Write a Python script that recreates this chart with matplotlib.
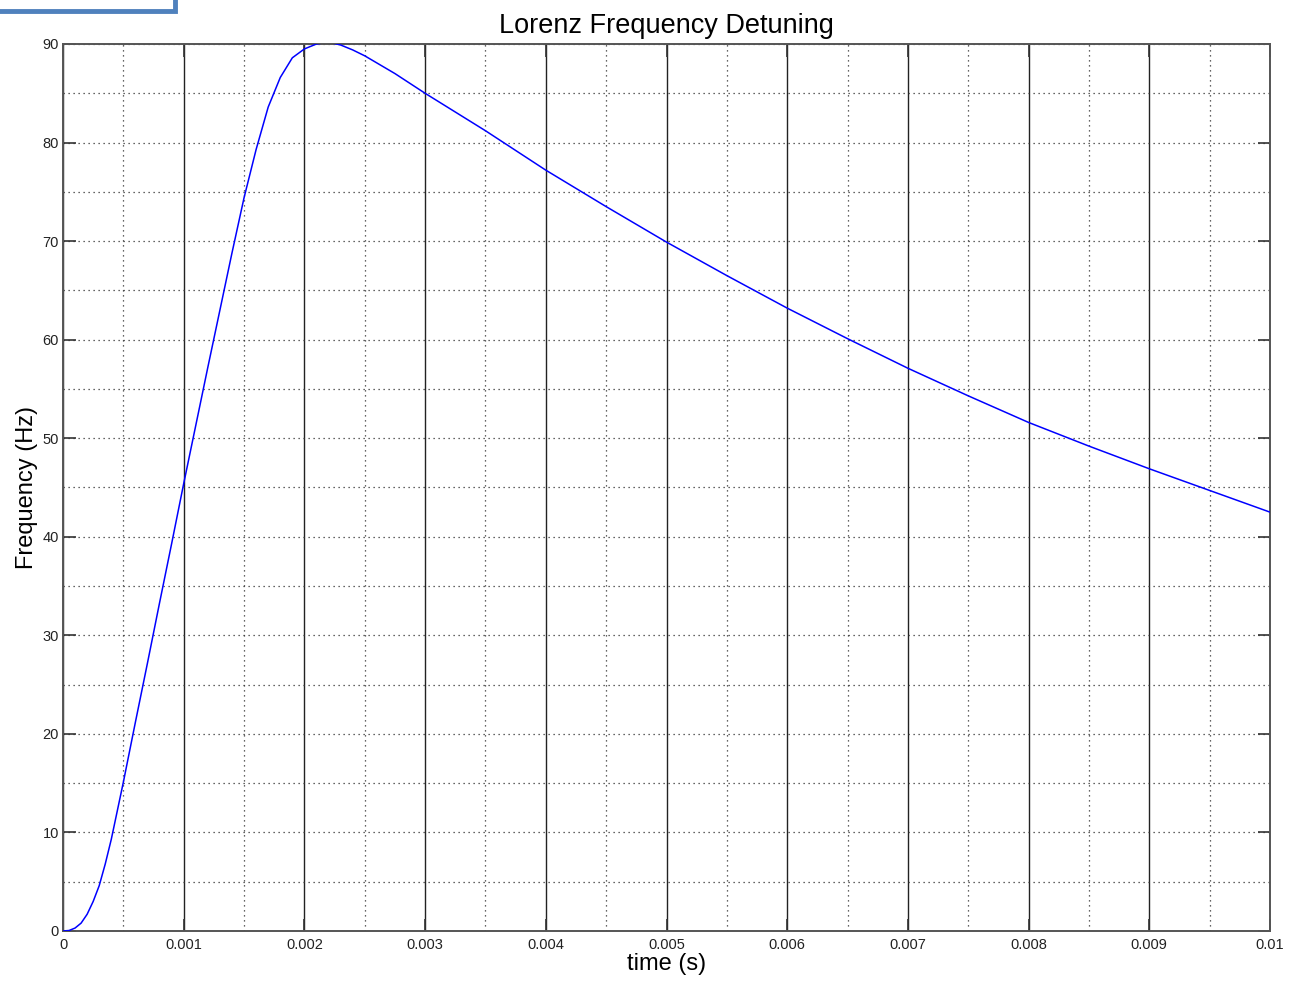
import matplotlib
matplotlib.use("Agg")
import matplotlib.pyplot as plt
from matplotlib.patches import Rectangle
from matplotlib.ticker import MultipleLocator, FixedFormatter, FixedLocator

# time (s) and detuning (Hz)
time_s = [0, 0.00005, 0.0001, 0.00015, 0.0002, 0.00025, 0.0003, 0.00035, 0.0004,
          0.0005, 0.0006, 0.0007, 0.0008, 0.0009, 0.001, 0.0011, 0.0012, 0.0013,
          0.0014, 0.0015, 0.0016, 0.0017, 0.0018, 0.0019, 0.002, 0.0021, 0.0022,
          0.0023, 0.0024, 0.0025, 0.00275, 0.003, 0.0035, 0.004, 0.0045, 0.005,
          0.0055, 0.006, 0.0065, 0.007, 0.0075, 0.008, 0.0085, 0.009, 0.0095, 0.01]
freq_hz = [0, 0.05, 0.3, 0.8, 1.7, 3.0, 4.6, 6.8, 9.3,
           15.1, 21.2, 27.2, 33.3, 39.3, 45.4, 51.3, 57.2, 63.0,
           68.8, 74.4, 79.3, 83.6, 86.6, 88.6, 89.5, 90.0, 90.2,
           89.9, 89.4, 88.8, 87.0, 85.0, 81.2, 77.2, 73.5, 69.9,
           66.5, 63.2, 60.1, 57.1, 54.3, 51.6, 49.2, 46.9, 44.7, 42.5]

x_ticks = [0, 0.001, 0.002, 0.003, 0.004, 0.005, 0.006, 0.007, 0.008, 0.009, 0.01]
x_labels = ["0", "0.001", "0.002", "0.003", "0.004", "0.005", "0.006",
            "0.007", "0.008", "0.009", "0.01"]
y_ticks = [0, 10, 20, 30, 40, 50, 60, 70, 80, 90]

plt.rcParams["font.family"] = ["Liberation Sans", "DejaVu Sans"]

fig = plt.figure(figsize=(12.93, 9.81), dpi=100)
ax = fig.add_axes([63 / 1293, 50 / 981, 1207 / 1293, 887 / 981])

ax.plot(time_s, freq_hz, color="#0000ff", linewidth=1.1, zorder=5)

ax.set_xlim(0, 0.01)
ax.set_ylim(0, 90)
ax.xaxis.set_major_locator(FixedLocator(x_ticks))
ax.xaxis.set_major_formatter(FixedFormatter(x_labels))
ax.xaxis.set_minor_locator(MultipleLocator(0.0005))
ax.yaxis.set_major_locator(FixedLocator(y_ticks))
ax.yaxis.set_minor_locator(MultipleLocator(5))

dots = (0, (1, 3))
ax.grid(which="major", axis="x", color="#222222", linestyle="-", linewidth=1.0)
ax.grid(which="minor", axis="x", color="#333333", linestyle=dots, linewidth=0.9)
ax.grid(which="both", axis="y", color="#333333", linestyle=dots, linewidth=0.9)

ax.tick_params(which="major", direction="in", length=9, width=1.2, color="#333333",
               top=True, right=True, labelsize=10.5, labelcolor="#222222")
ax.tick_params(which="minor", length=0)
ax.tick_params(axis="x", pad=5)
ax.tick_params(axis="y", pad=3)
for s in ax.spines.values():
    s.set_color("#555555")
    s.set_linewidth(1.4)

ax.set_title("Lorenz Frequency Detuning", fontsize=19.5, pad=8)
ax.set_xlabel("time (s)", fontsize=17, labelpad=1)
ax.set_ylabel("Frequency (Hz)", fontsize=17, labelpad=3)

# blue box fragment in the top left corner of the screenshot
fig.patches.append(Rectangle((-0.01, 1 - 11 / 981), 188 / 1293, 0.03,
                             transform=fig.transFigure, fill=False,
                             edgecolor="#4f81bd", linewidth=3.5))

fig.savefig("out.png", dpi=100)
